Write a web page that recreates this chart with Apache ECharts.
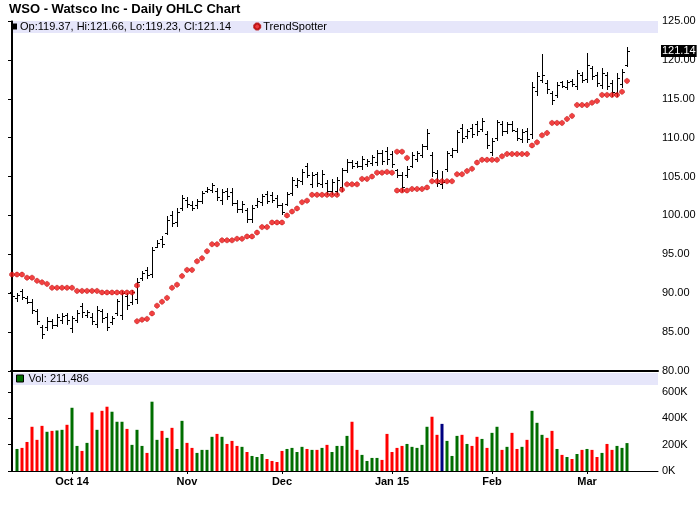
<!DOCTYPE html>
<html><head><meta charset="utf-8">
<script src="https://cdn.jsdelivr.net/npm/echarts@6/dist/echarts.min.js"></script>
<style>html,body{margin:0;padding:0;background:#fff}#c{width:700px;height:512px}</style>
</head><body><div id="c"></div>
<script>
const FONT = '"Liberation Sans", Arial, Helvetica, sans-serif';
const titleText = 'WSO - Watsco Inc - Daily OHLC Chart';

const opens = [
90.2,89.4,90.3,89.4,88.9,87.7,85.6,85.6,86.4,85.9,
86.6,87.2,85.5,86.6,88.4,87.2,87.0,86.0,87.7,87.0,
86.3,87.5,87.2,89.6,88.9,89.2,92.0,93.0,92.5,96.0,
97.0,97.8,100.0,99.2,101.0,102.0,101.4,101.3,101.8,103.1,
103.3,103.2,102.0,103.1,103.0,101.6,100.8,100.7,99.5,101.3,
101.7,102.8,102.6,102.2,101.3,101.5,102.9,103.9,104.4,106.3,
104.1,105.3,104.0,104.2,103.2,103.1,103.6,105.8,106.9,106.7,
106.3,106.6,106.8,106.9,108.0,108.3,107.9,105.8,105.2,105.2,
106.4,107.3,107.8,108.9,107.8,105.4,104.0,106.0,107.8,108.4,
111.2,110.2,111.3,111.8,111.1,110.5,108.2,110.0,111.8,110.9,
111.8,110.9,109.8,110.9,110.5,116.0,117.4,117.0,115.7,115.5,
117.1,116.5,117.3,116.6,118.1,117.5,118.9,118.1,116.8,118.0,
117.0,115.8,116.9,119.37];
const highs = [
90.6,90.0,90.6,89.6,89.2,88.0,85.9,86.9,86.75,87.3,
87.4,87.5,87.05,87.8,88.7,87.8,87.4,88.3,88.0,87.4,
87.05,89.3,90.3,90.0,90.4,91.9,92.9,93.4,96.0,96.8,
97.4,99.9,100.6,100.9,102.6,102.4,101.8,102.1,103.2,103.6,
104.2,103.5,103.4,103.5,103.5,102.0,101.9,101.0,101.4,102.2,
102.8,103.2,103.0,102.6,101.6,103.0,104.9,104.8,106.0,106.7,
105.6,105.6,105.8,104.5,104.7,104.9,106.1,107.25,107.1,106.95,
107.7,107.3,107.8,108.4,108.4,108.8,108.3,106.0,105.6,106.3,
108.1,108.3,109.2,111.1,108.1,105.8,105.7,108.3,108.7,111.0,
111.7,111.1,111.75,112.2,112.5,110.8,110.0,112.3,112.1,112.0,
112.1,111.2,111.1,111.2,117.1,118.4,120.7,117.4,116.0,117.1,
117.3,117.4,117.55,118.7,118.4,120.9,119.2,118.5,119.0,118.4,
117.4,118.3,118.8,121.66];
const lows = [
89.0,89.0,89.2,88.7,87.5,86.1,84.3,85.3,85.5,85.8,
86.2,86.1,85.0,86.3,86.9,87.0,86.1,85.6,86.3,85.3,
86.1,87.2,86.75,88.0,88.6,88.7,91.7,91.9,92.1,95.9,
95.9,97.6,98.7,98.7,100.7,101.1,100.7,101.0,101.6,103.0,
103.0,102.0,101.5,102.1,101.3,100.4,100.4,99.1,99.1,101.1,
101.4,101.6,101.7,101.1,100.2,101.3,102.6,103.6,104.1,104.9,
103.7,103.8,103.6,102.8,102.8,102.7,103.2,105.55,106.1,106.2,
106.0,106.3,106.5,106.5,106.6,106.6,106.2,104.9,103.2,105.0,
106.2,107.0,107.5,108.55,105.1,103.8,103.5,105.7,107.5,108.1,
109.5,110.0,110.1,110.4,110.8,108.7,107.8,109.7,110.4,110.6,
110.8,109.7,109.5,109.4,110.0,115.5,117.1,115.8,114.3,115.2,
116.45,116.2,116.7,116.2,117.1,117.1,117.5,116.7,116.35,116.2,
115.4,115.4,116.5,119.23];
const closes = [
89.6,89.8,89.5,88.9,87.8,86.4,84.7,86.4,85.9,87.0,
87.1,86.5,86.8,87.4,87.6,87.6,86.4,87.9,86.8,85.6,
86.8,89.0,90.0,88.5,90.1,91.5,92.6,92.3,95.6,96.5,
96.3,99.4,99.0,100.5,102.2,101.5,100.9,101.8,102.9,103.4,
103.9,102.4,103.0,102.5,101.6,100.8,101.5,99.6,101.0,101.9,
102.5,101.9,102.0,101.4,100.5,102.7,104.5,104.5,105.6,105.2,
105.2,104.2,105.3,103.2,104.3,104.6,105.8,106.9,106.4,106.4,
107.3,107.0,107.5,108.0,107.0,107.2,106.6,105.2,103.7,106.0,
107.8,108.0,108.9,110.6,105.6,104.2,104.3,108.0,108.4,110.7,
109.9,110.8,110.5,110.8,112.1,109.0,109.6,112.0,110.8,111.7,
111.0,110.0,110.7,109.8,116.5,117.9,118.1,116.2,114.8,116.8,
116.6,117.1,116.9,118.3,117.4,119.3,117.9,117.0,118.3,116.7,
115.9,117.7,118.4,121.14];

const volumes = [
null,167000,175000,220000,335000,236000,342000,297000,304000,307000,
312000,350000,479000,190000,152000,213000,444000,312000,456000,487000,
449000,373000,373000,319000,198000,312000,190000,137000,525000,236000,
304000,251000,327000,167000,380000,213000,175000,137000,160000,160000,
259000,281000,259000,205000,228000,190000,183000,144000,114000,106000,
129000,91000,76000,68000,152000,167000,175000,144000,183000,167000,
160000,160000,175000,198000,144000,190000,190000,266000,373000,160000,
122000,76000,99000,99000,84000,281000,144000,175000,190000,205000,
183000,175000,198000,335000,411000,274000,357000,228000,114000,266000,
274000,205000,190000,259000,243000,175000,289000,335000,160000,183000,
289000,167000,183000,236000,456000,365000,274000,251000,304000,167000,
122000,106000,91000,129000,160000,167000,160000,106000,137000,205000,
160000,190000,175000,211486];
// G = up (green), R = down (red), N = highlighted (navy)
const volumeDir = [
'-','G','R','R','R','R','R','G','R','G',
'G','R','G','G','R','G','R','G','R','R',
'G','G','G','R','G','G','G','R','G','G',
'R','G','R','G','G','R','R','G','G','G',
'G','R','G','R','R','R','G','R','G','G',
'G','R','R','R','R','G','G','G','G','R',
'G','R','G','R','G','G','G','G','R','R',
'G','G','G','G','R','R','R','R','R','G',
'G','G','G','G','R','R','N','G','G','G',
'R','G','R','R','G','R','G','G','R','G',
'R','R','G','R','G','G','G','R','R','G',
'R','G','R','G','R','G','R','R','G','R',
'R','G','G','G'];

const trendSpotter = [
92.4,92.4,92.4,92.0,92.0,91.6,91.4,91.2,90.7,90.7,
90.7,90.7,90.7,90.3,90.3,90.3,90.3,90.3,90.1,90.1,
90.1,90.1,90.1,90.1,90.1,86.4,86.6,86.7,87.4,88.4,
88.9,89.4,90.7,91.1,92.2,93.0,93.0,94.1,94.5,95.4,
96.3,96.3,96.8,96.8,96.8,97.0,97.0,97.3,97.3,97.8,
98.5,98.5,99.1,99.1,99.1,100.0,100.5,100.9,101.7,101.9,
102.65,102.65,102.65,102.65,102.65,102.65,103.3,104.0,104.0,104.0,
104.7,104.7,105.0,105.5,105.5,105.6,105.5,103.2,103.2,103.2,
103.4,103.4,103.4,103.6,104.4,104.4,104.4,104.4,104.4,105.3,
105.3,105.7,106.0,106.8,107.15,107.15,107.15,107.15,107.6,107.9,
107.9,107.9,107.9,107.9,109.0,109.4,110.3,110.6,111.9,111.9,
111.9,112.4,112.8,114.2,114.2,114.2,114.5,114.7,115.5,115.5,
115.5,115.5,115.9,117.3];
const trendSpotterExtraIdx = [25, 77, 78, 79];
const trendSpotterExtraVal = [91.0, 108.2, 108.2, 107.4];

const xTickIdx = [12, 35, 54, 76, 96, 115];
const xTickLabels = ['Oct 14', 'Nov', 'Dec', 'Jan 15', 'Feb', 'Mar'];

const last = closes.length - 1;
const ohlcName = 'Op:' + opens[last].toFixed(2) + ', Hi:' + highs[last].toFixed(2) +
  ', Lo:' + lows[last].toFixed(2) + ', Cl:' + closes[last].toFixed(2);
const volName = 'Vol: ' + volumes[last].toLocaleString('en-US');

const ohlcData = opens.map((o, i) => [i, o, highs[i], lows[i], closes[i]]);
const tsData = trendSpotter.map((v, i) => [i, v])
  .concat(trendSpotterExtraIdx.map((ix, k) => [ix, trendSpotterExtraVal[k]]));
const dirColor = { G: '#006e00', R: '#ff0000', N: '#000080' };
const volData = [];
volumes.forEach((v, i) => {
  if (v != null) volData.push({ value: [i, v], itemStyle: { color: dirColor[volumeDir[i]] } });
});

const MARK = 'path://M2,0H4L6,2V4L4,6H2L0,4V2Z';
const XMIN = -0.2, XMAX = 129.2;

const chart = echarts.init(document.getElementById('c'), null, { renderer: 'canvas' });
chart.setOption({
  animation: false,
  backgroundColor: '#fff',
  title: {
    text: titleText, left: 9, top: 3, padding: 0,
    textStyle: { fontSize: 13, fontWeight: 'bold', color: '#000', fontFamily: FONT }
  },
  graphic: [
    { type: 'rect', z: -1, shape: { x: 11, y: 21, width: 647, height: 12 }, style: { fill: '#e6e6fa' } },
    { type: 'rect', z: -1, shape: { x: 11, y: 373, width: 647, height: 12 }, style: { fill: '#e6e6fa' } }
  ],
  legend: [
    {
      left: 11, top: 21, padding: 0, itemGap: 22, itemWidth: 6, itemHeight: 6,
      selectedMode: false,
      textStyle: { fontSize: 11, color: '#000', fontFamily: FONT, padding: [0, 0, 0, -2] },
      data: [
        { name: ohlcName, icon: 'rect', itemStyle: { color: '#000' } },
        { name: 'TrendSpotter', icon: MARK }
      ]
    },
    {
      left: 16, top: 373, padding: 0, itemWidth: 7, itemHeight: 7,
      selectedMode: false,
      textStyle: { fontSize: 11, color: '#000', fontFamily: FONT },
      data: [{ name: volName, icon: 'rect', itemStyle: { color: '#006e00', borderColor: '#000', borderWidth: 1 } }]
    }
  ],
  grid: [
    { left: 11, right: 42, top: 21, bottom: 141 },
    { left: 11, right: 42, top: 372, bottom: 41 }
  ],
  xAxis: [
    {
      type: 'value', gridIndex: 0, min: XMIN, max: XMAX,
      axisLine: { show: true, onZero: false, lineStyle: { color: '#000', width: 2 } },
      axisTick: { show: false }, axisLabel: { show: false }, splitLine: { show: false }
    },
    {
      type: 'value', gridIndex: 1, min: XMIN, max: XMAX,
      axisLine: { show: true, onZero: false, lineStyle: { color: '#000', width: 1 } },
      axisTick: { show: true, customValues: xTickIdx, length: 3, lineStyle: { color: '#000' } },
      axisLabel: {
        show: true, customValues: xTickIdx, margin: 5,
        fontSize: 11, fontWeight: 'bold', color: '#000', fontFamily: FONT,
        formatter: v => xTickLabels[xTickIdx.indexOf(Math.round(v))] || ''
      },
      splitLine: { show: false }
    }
  ],
  yAxis: [
    {
      type: 'value', gridIndex: 0, position: 'right', min: 80, max: 125, interval: 5,
      axisLine: { show: true, lineStyle: { color: '#000' } },
      axisTick: { show: true, inside: true, length: 4, lineStyle: { color: '#000' } },
      axisLabel: { margin: 4, fontSize: 11, color: '#000', fontFamily: FONT, formatter: v => v.toFixed(2) },
      splitLine: { show: false }
    },
    {
      type: 'value', gridIndex: 1, position: 'right', min: 0, max: 750000, interval: 200000,
      axisLine: { show: true, lineStyle: { color: '#000' } },
      axisTick: { show: true, inside: true, length: 4, lineStyle: { color: '#000' } },
      axisLabel: { margin: 4, fontSize: 11, color: '#000', fontFamily: FONT, showMaxLabel: false,
        formatter: v => (v / 1000) + 'K' },
      splitLine: { show: false }
    },
    {
      type: 'value', gridIndex: 0, position: 'left', min: 80, max: 125,
      axisLine: { show: true, lineStyle: { color: '#000' } },
      axisTick: { show: false }, axisLabel: { show: false }, splitLine: { show: false }
    },
    {
      type: 'value', gridIndex: 1, position: 'left', min: 0, max: 750000,
      axisLine: { show: true, lineStyle: { color: '#000' } },
      axisTick: { show: false }, axisLabel: { show: false }, splitLine: { show: false }
    }
  ],
  series: [
    {
      name: ohlcName, type: 'custom', xAxisIndex: 0, yAxisIndex: 0,
      itemStyle: { color: '#000' },
      encode: { x: 0, y: [1, 2, 3, 4] },
      data: ohlcData,
      renderItem: function (params, api) {
        const x = api.value(0);
        const o = api.coord([x, api.value(1)]);
        const h = api.coord([x, api.value(2)]);
        const l = api.coord([x, api.value(3)]);
        const c = api.coord([x, api.value(4)]);
        const px = Math.round(h[0]) + 0.5;
        const oy = Math.round(o[1]) + 0.5;
        const cy = Math.round(c[1]) + 0.5;
        const st = { stroke: '#000', lineWidth: 1 };
        return {
          type: 'group', children: [
            { type: 'line', shape: { x1: px, y1: Math.round(h[1]), x2: px, y2: Math.round(l[1]) + 1 }, style: st },
            { type: 'line', shape: { x1: px - 2.5, y1: oy, x2: px, y2: oy }, style: st },
            { type: 'line', shape: { x1: px, y1: cy, x2: px + 2.5, y2: cy }, style: st }
          ]
        };
      },
      z: 3
    },
    {
      name: 'TrendSpotter', type: 'scatter', xAxisIndex: 0, yAxisIndex: 0,
      symbol: MARK, symbolSize: 5,
      itemStyle: { color: '#ee1111', borderColor: '#b00000', borderWidth: 0.5 },
      data: tsData,
      z: 4,
      markLine: {
        silent: true, symbol: 'none', animation: false,
        lineStyle: { color: 'rgba(0,0,0,0)', width: 0 },
        label: {
          show: true, position: 'end', distance: 3, formatter: closes[last].toFixed(2),
          backgroundColor: '#000', color: '#fff', fontSize: 11, fontFamily: FONT, padding: [1, 1, 0, 1]
        },
        data: [{ yAxis: closes[last] }]
      }
    },
    {
      name: volName, type: 'bar', xAxisIndex: 1, yAxisIndex: 1,
      barWidth: 3, itemStyle: { color: '#006e00' },
      data: volData
    }
  ]
});
</script></body></html>
